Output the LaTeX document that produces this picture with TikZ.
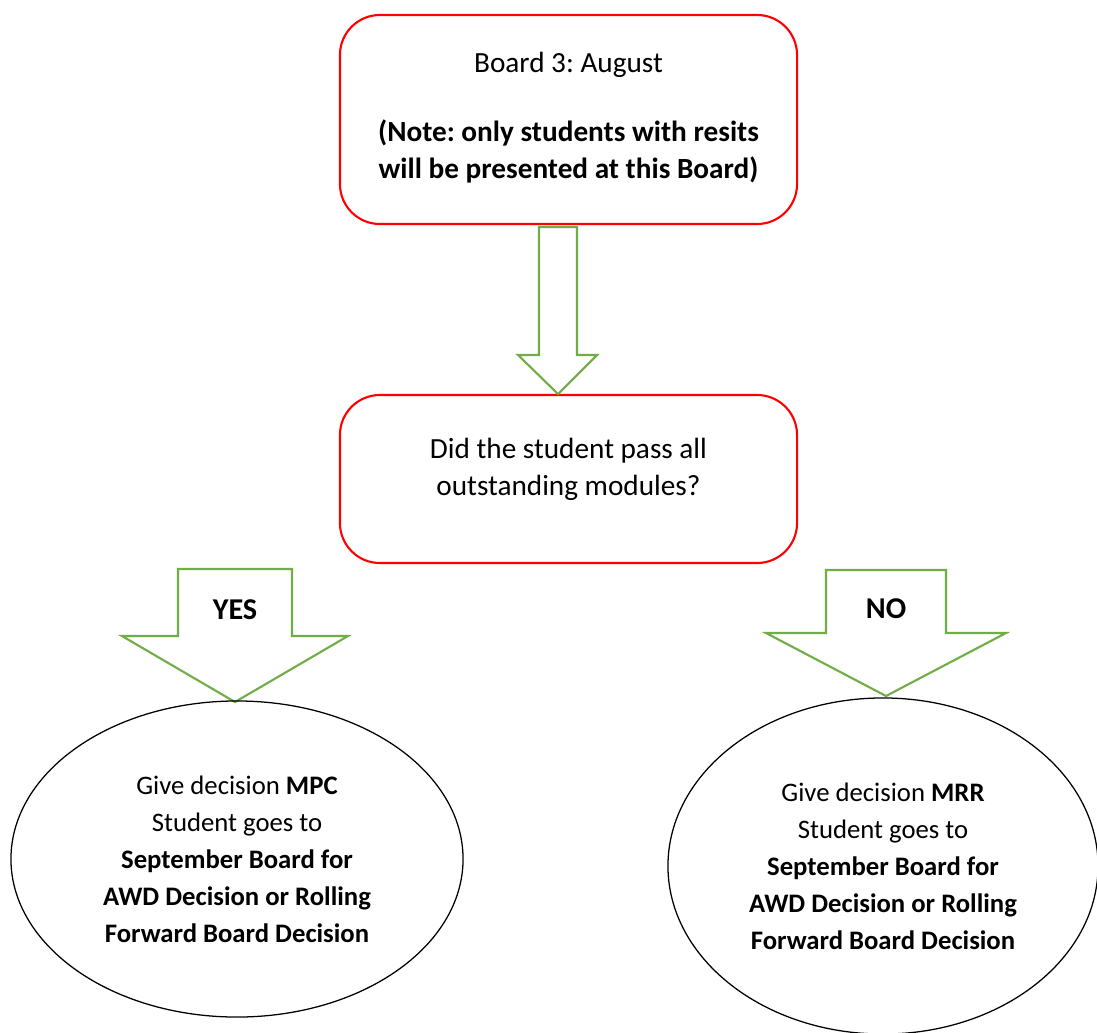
\documentclass[tikz,border=0pt]{standalone}
\usepackage{fontspec}
\setmainfont{Carlito}
\usetikzlibrary{shapes.geometric}
\frenchspacing

\begin{document}
\begin{tikzpicture}[x=0.025cm,y=-0.025cm]
			\definecolor{boxred}{HTML}{FF0000}
			\definecolor{arrowgreen}{HTML}{70AD47}
			\tikzset{
				redbox/.style={draw=boxred,line width=1.5pt,rounded corners=1cm,minimum width=11.425cm,align=center,font=\fontsize{20.8}{26.3}\selectfont},
				fatarrow/.style={draw=arrowgreen,line width=1.5pt,line join=miter},
				oval/.style={draw,ellipse,line width=0.9pt,align=center,inner sep=0pt,font=\fontsize{19}{26.3}\selectfont},
				armlabel/.style={font=\fontsize{21.5}{24}\selectfont\bfseries,inner sep=0pt}
			}
			\useasboundingbox (0,0) rectangle (1097,1032);
			% board
			\node[redbox,minimum height=5.225cm] (board) at (568.5,119.5) {Board 3: August\\[0.8cm]
				\textbf{(Note: only students with resits}\\
				\textbf{will be presented at this Board)}\\[-0.7cm]};
			% frage
			\node[redbox,minimum height=4.2cm] (frage) at (568.5,479) {Did the student pass all\\
				outstanding modules?\\[-0.3cm]};
			% Pfeil board -> frage
			\draw[fatarrow] (539,227) -- (577,227) -- (577,355) -- (597,355) -- (558,394) -- (518,355) -- (539,355) -- cycle;
			% Pfeil YES
			\draw[fatarrow] (178,569) -- (292,569) -- (292,636) -- (348,636) -- (235,702) -- (122,636) -- (178,636) -- cycle;
			% Pfeil NO
			\draw[fatarrow] (826,570) -- (946,570) -- (946,633) -- (1006,633) -- (886,696) -- (766,633) -- (826,633) -- cycle;
			% labels
			\node[armlabel] (yes) at (235,610) {YES};
			\node[armlabel] (no) at (886,609) {NO};
			% Entscheidungen
			\node[oval,minimum width=11.3cm,minimum height=7.9cm] (mpc) at (237,859) {Give decision \textbf{MPC}\\
				Student goes to\\
				\textbf{September Board for}\\
				\textbf{AWD Decision or Rolling}\\
				\textbf{Forward Board Decision}};
			\node[oval,minimum width=10.75cm,minimum height=8.4cm] (mrr) at (883,866) {Give decision \textbf{MRR}\\
				Student goes to\\
				\textbf{September Board for}\\
				\textbf{AWD Decision or Rolling}\\
				\textbf{Forward Board Decision}};
			
\end{tikzpicture}
\end{document}
